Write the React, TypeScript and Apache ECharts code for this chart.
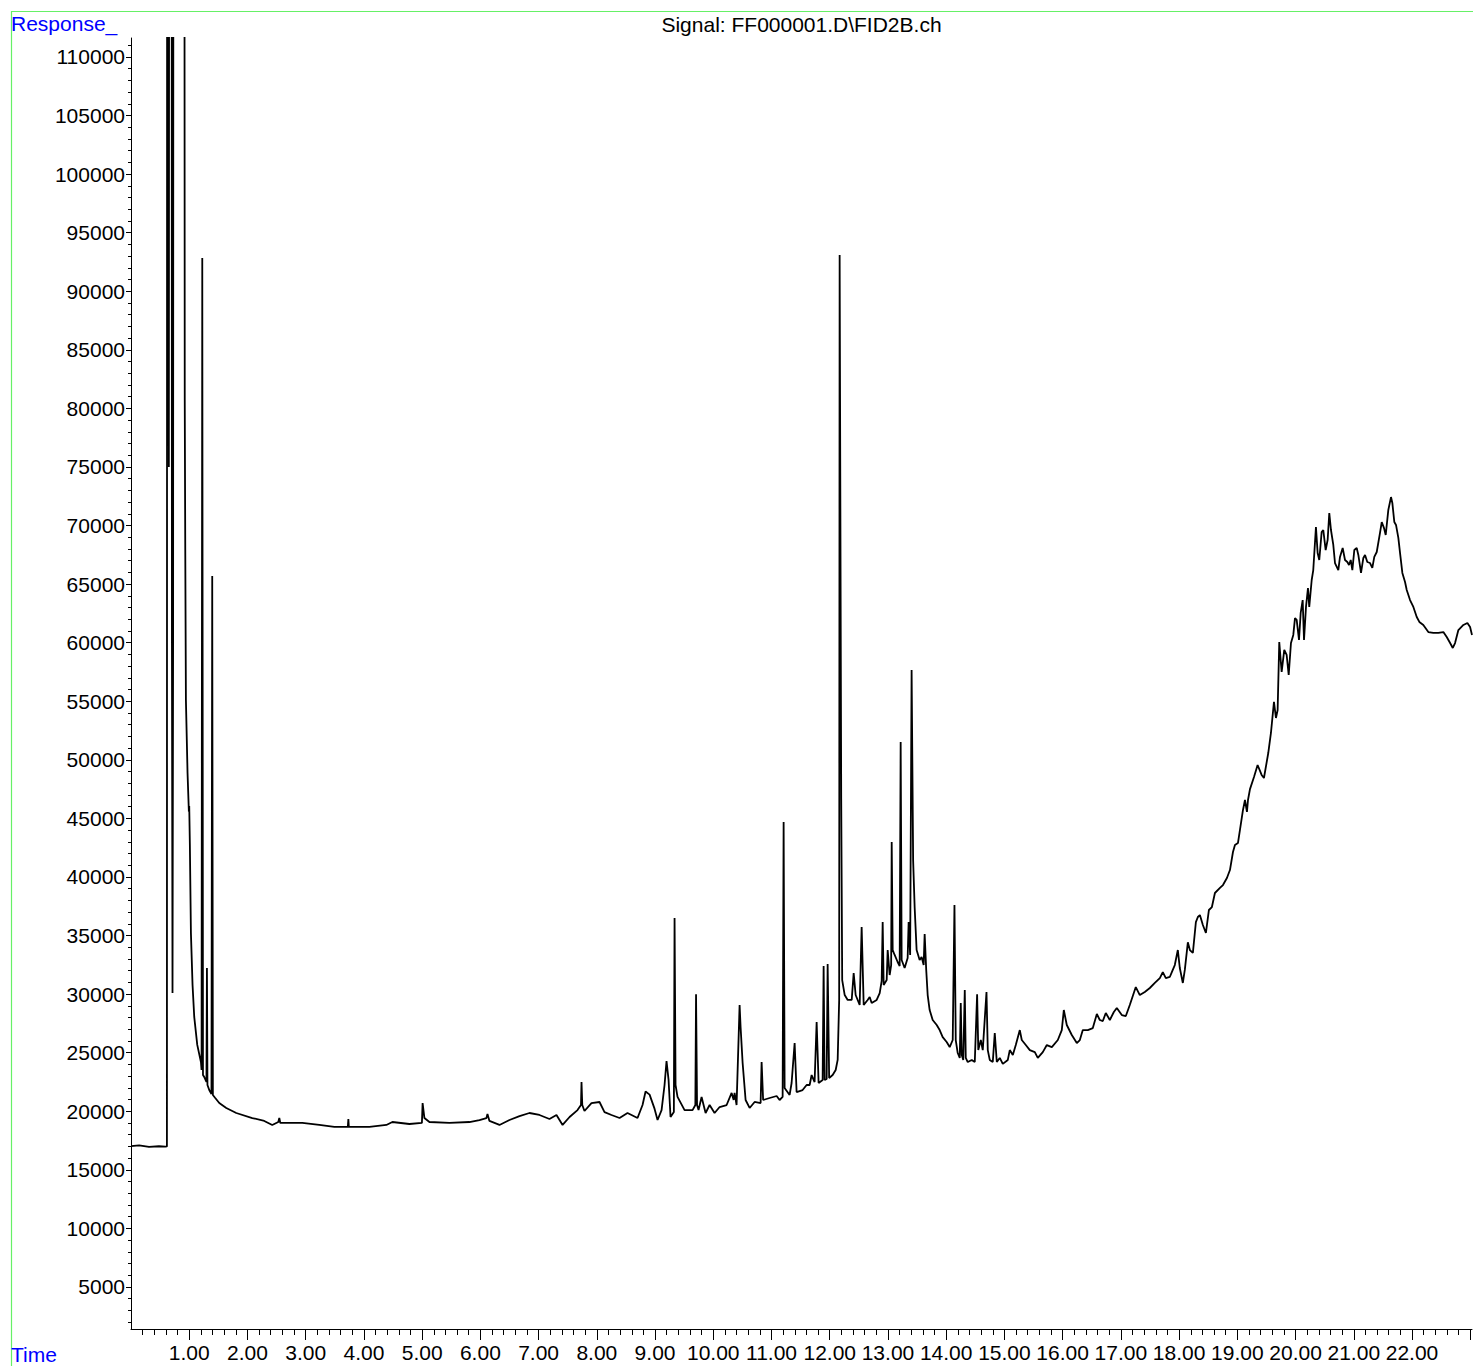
import React, { useEffect, useRef } from "react";
import * as echarts from "echarts";

// ---- Data (time in min, response) ----
const solventTrace: number[][] = [
  [0.0, 17030], [0.14, 17080], [0.31, 16950], [0.48, 17010], [0.59, 16980], [0.617, 17000],
  [0.622, 200000], [0.636, 400000], [0.643, 150000], [0.65, 75000], [0.657, 150000], [0.675, 400000],
  [0.697, 150000], [0.703, 60000], [0.713, 30100], [0.723, 60000], [0.729, 150000], [0.76, 600000],
  [0.88, 500000], [0.906, 300000], [0.915, 150000], [0.923, 80720], [0.932, 67910], [0.943, 55110],
  [0.971, 48880], [0.994, 45560], [1.0, 46060], [1.011, 42730], [1.029, 35220], [1.057, 30780],
  [1.086, 28050], [1.138, 25660], [1.201, 24200], [1.212, 23520], [1.224, 92840], [1.236, 23100],
  [1.258, 22920], [1.296, 22500], [1.304, 32230], [1.313, 22240], [1.344, 21810], [1.382, 21470],
  [1.395, 65690], [1.406, 21390], [1.447, 21130],
];

const baselineTrace: number[][] = [
  [1.516, 20700], [1.636, 20280], [1.808, 19850], [2.083, 19420], [2.289, 19170], [2.426, 18830],
  [2.53, 19080], [2.547, 19420], [2.564, 19000], [2.719, 19000], [2.942, 19000], [3.234, 18830],
  [3.492, 18660], [3.724, 18660], [3.733, 19340], [3.741, 18660], [4.094, 18660], [4.386, 18830],
  [4.489, 19080], [4.781, 18910], [4.996, 19000], [5.008, 20700], [5.039, 19420], [5.125, 19080],
  [5.468, 19000], [5.812, 19080], [5.984, 19250], [6.104, 19420], [6.122, 19760], [6.156, 19170],
  [6.328, 18830], [6.5, 19250], [6.672, 19590], [6.843, 19850], [7.015, 19680], [7.187, 19340],
  [7.307, 19680], [7.412, 18830],
];

const midTrace: number[][] = [
  [7.532, 19510], [7.668, 20100], [7.728, 20530], [7.737, 22490], [7.75, 20530], [7.788, 20020],
  [7.908, 20700], [8.046, 20790], [8.132, 19930], [8.252, 19680], [8.39, 19420], [8.527, 19850],
  [8.699, 19420], [8.785, 20530], [8.837, 21680], [8.906, 21420], [8.991, 20220], [9.043, 19250],
  [9.112, 20100], [9.163, 22240], [9.197, 24290], [9.232, 22670], [9.266, 19510], [9.323, 19930],
  [9.335, 36500], [9.352, 22240], [9.386, 21220], [9.507, 20100], [9.644, 20100], [9.692, 20530],
  [9.704, 29990], [9.721, 20530], [9.747, 20100], [9.799, 21220], [9.868, 19850], [9.937, 20530],
  [10.022, 19850], [10.109, 20360], [10.229, 20530], [10.315, 21560], [10.35, 20960], [10.366, 21560],
  [10.4, 20530], [10.452, 29070], [10.469, 27190], [10.504, 24120], [10.555, 20960], [10.624, 20280],
  [10.71, 20790], [10.813, 20700], [10.83, 24200], [10.856, 20960], [10.968, 21130], [11.088, 21300],
  [11.139, 20960], [11.191, 21220], [11.208, 44690], [11.225, 21990], [11.311, 21390], [11.345, 22410],
  [11.397, 25820], [11.431, 21640], [11.534, 21810], [11.603, 22240], [11.655, 22240], [11.689, 23090],
  [11.74, 22490], [11.775, 27620], [11.809, 22410], [11.878, 22670], [11.895, 32400], [11.912, 22670],
  [11.947, 22760], [11.964, 32570], [11.99, 22840], [12.05, 23090], [12.102, 23520], [12.136, 24380],
  [12.162, 29500], [12.17, 93100], [12.197, 46640], [12.214, 31200],
];

const clusterTrace: number[][] = [
  [12.257, 29920], [12.308, 29500], [12.377, 29500], [12.411, 31800], [12.445, 29920], [12.514, 29070],
  [12.548, 35730], [12.583, 29070], [12.651, 29500], [12.686, 29750], [12.72, 29240], [12.806, 29500],
  [12.858, 30090], [12.892, 31120], [12.909, 36150], [12.926, 30780], [12.978, 31200], [12.995, 33760],
  [13.029, 31630], [13.055, 32480], [13.064, 42980], [13.081, 33760], [13.115, 33340], [13.166, 32740],
  [13.201, 32400], [13.218, 51520], [13.235, 32910], [13.286, 32230], [13.338, 33080], [13.355, 36150],
  [13.381, 33340], [13.406, 57670], [13.432, 41450], [13.458, 37440], [13.492, 33760], [13.544, 32910],
  [13.578, 33170], [13.613, 32480], [13.63, 35130], [13.657, 32060], [13.682, 29920], [13.716, 28640],
  [13.768, 27790], [13.837, 27360], [13.888, 26930], [13.94, 26330], [14.008, 25910], [14.06, 25480],
  [14.112, 26080], [14.142, 37610], [14.164, 26080], [14.198, 24970], [14.233, 24550], [14.25, 29240],
  [14.267, 24800], [14.293, 24380], [14.319, 30350], [14.336, 24550], [14.37, 24200], [14.439, 24380],
  [14.491, 24200], [14.531, 29990], [14.551, 25220], [14.594, 26080], [14.628, 25220], [14.692, 30180],
  [14.714, 25220], [14.748, 24380], [14.8, 24200], [14.834, 26680], [14.869, 24200], [14.92, 24550],
  [14.972, 24040],
];

const riseTrace: number[][] = [
  [15.058, 24380], [15.092, 25220], [15.144, 24800], [15.195, 25650], [15.264, 26930], [15.298, 26080],
  [15.367, 25650], [15.436, 25220], [15.522, 25050], [15.573, 24550], [15.659, 25050], [15.728, 25650],
  [15.814, 25480], [15.917, 26080], [15.985, 26930], [16.02, 28640], [16.071, 27360], [16.157, 26510],
  [16.243, 25820], [16.295, 26080], [16.346, 26930], [16.432, 26930], [16.518, 27100], [16.587, 28300],
  [16.638, 27790], [16.69, 27700], [16.741, 28390], [16.81, 27790], [16.879, 28470], [16.93, 28810],
  [17.016, 28210], [17.085, 28130], [17.153, 29070], [17.256, 30600], [17.325, 29920], [17.411, 30180],
  [17.497, 30520], [17.583, 30950], [17.669, 31370], [17.72, 31880], [17.772, 31370], [17.84, 31460],
  [17.875, 31880], [17.926, 32480], [17.978, 33760], [18.012, 32230], [18.064, 30950], [18.098, 32060],
  [18.15, 34420], [18.185, 33760], [18.236, 33510], [18.288, 36150], [18.322, 36580], [18.357, 36750],
  [18.408, 35900], [18.46, 35220], [18.512, 37180], [18.563, 37430], [18.615, 38630], [18.701, 39060],
  [18.753, 39310], [18.821, 39910], [18.873, 40590], [18.925, 42130], [18.959, 42730], [19.011, 42900],
  [19.045, 44010], [19.097, 45720], [19.131, 46570], [19.165, 45550], [19.183, 46570],
];

const humpTrace: number[][] = [
  [19.217, 47500], [19.286, 48530], [19.348, 49560], [19.417, 48710], [19.457, 48450], [19.531, 50580],
  [19.577, 52290], [19.629, 54940], [19.663, 53570], [19.692, 54250], [19.72, 60060], [19.761, 57500],
  [19.806, 59380], [19.847, 58950], [19.882, 57240], [19.921, 59970], [19.961, 60660], [19.99, 62100],
  [20.019, 61940], [20.059, 60230], [20.088, 62540], [20.122, 63640], [20.145, 60230], [20.179, 63050],
  [20.213, 64670], [20.235, 63050], [20.277, 65350], [20.304, 66200], [20.35, 69880], [20.379, 67660],
  [20.407, 67060], [20.448, 69450], [20.476, 69620], [20.517, 67910], [20.551, 68770], [20.579, 71070],
  [20.608, 69620], [20.648, 68340], [20.677, 66800], [20.734, 66200], [20.763, 67320], [20.809, 68080],
  [20.849, 67060], [20.889, 66890], [20.918, 66630], [20.947, 67060], [20.975, 66200], [21.009, 67910],
  [21.05, 68080], [21.078, 67490], [21.124, 65950], [21.164, 67230], [21.193, 67490], [21.232, 66890],
  [21.279, 66800], [21.318, 66380], [21.352, 67320], [21.394, 67740], [21.45, 69370], [21.48, 70300],
  [21.519, 69780], [21.548, 69190], [21.593, 71330], [21.639, 72430], [21.662, 71930], [21.696, 70300],
  [21.725, 70050], [21.765, 68940], [21.794, 67660], [21.834, 65950], [21.88, 65180], [21.909, 64500],
  [21.966, 63640], [22.023, 63050], [22.081, 62190], [22.126, 61770], [22.194, 61510], [22.28, 60910],
  [22.366, 60830], [22.452, 60830], [22.538, 60910], [22.596, 60480], [22.654, 59970], [22.7, 59550],
  [22.739, 59970], [22.796, 61080], [22.882, 61510], [22.951, 61680], [22.997, 61340], [23.03, 60660],
];

// ---- Axis tick values ----
const yLabelValues: number[] = [
  5000, 10000, 15000, 20000, 25000, 30000, 35000, 40000, 45000, 50000, 55000,
  60000, 65000, 70000, 75000, 80000, 85000, 90000, 95000, 100000, 105000, 110000,
];
const yMinorValues: number[] = [];
for (let v = 2000; v <= 111000; v += 1000) if (v % 5000 !== 0) yMinorValues.push(v);

const xLabelValues: number[] = [1, 2, 3, 4, 5, 6, 7, 8, 9, 10, 11, 12, 13, 14, 15, 16, 17, 18, 19, 20, 21, 22];
const xMajorTickValues: number[] = [...xLabelValues, 23];
const xMinorValues: number[] = [];
for (let i = 1; i <= 115; i++) if (i % 5 !== 0) xMinorValues.push(Math.round(i * 20) / 100);

const X_MIN = 0;
const X_MAX = 23.03;
const Y_MIN = 1410;
const Y_MAX = 111620;

const TITLE = "Signal: FF000001.D\\FID2B.ch";
const FONT = "Liberation Sans";

export default function App() {
  const ref = useRef<HTMLDivElement>(null);
  useEffect(() => {
    if (!ref.current) return;
    const chart = echarts.init(ref.current, null, { renderer: "svg" });
    const trace = [
      ...solventTrace,
      ...baselineTrace,
      ...midTrace,
      ...clusterTrace,
      ...riseTrace,
      ...humpTrace,
    ];
    const labelStyle = { color: "#000", fontSize: 21, fontFamily: FONT };
    chart.setOption({
      animation: false,
      backgroundColor: "#fff",
      grid: { left: 131, top: 38, width: 1341, height: 1291, outerBoundsMode: "none", containLabel: false },
      xAxis: [
        {
          type: "value",
          min: X_MIN,
          max: X_MAX,
          position: "bottom",
          axisLine: { show: true, lineStyle: { color: "#000", width: 1 } },
          axisTick: { show: true, length: 11, customValues: xMajorTickValues, lineStyle: { color: "#000" } },
          axisLabel: {
            ...labelStyle,
            margin: 13,
            customValues: xLabelValues,
            formatter: (v: number) => v.toFixed(2),
          },
          splitLine: { show: false },
        },
        {
          type: "value",
          min: X_MIN,
          max: X_MAX,
          position: "bottom",
          axisLine: { show: false },
          axisTick: { show: true, length: 6, customValues: xMinorValues, lineStyle: { color: "#000" } },
          axisLabel: { show: false },
          splitLine: { show: false },
        },
      ],
      yAxis: [
        {
          type: "value",
          min: Y_MIN,
          max: Y_MAX,
          position: "left",
          axisLine: { show: true, lineStyle: { color: "#000", width: 1 } },
          axisTick: { show: true, length: 5, customValues: yLabelValues, lineStyle: { color: "#000" } },
          axisLabel: {
            ...labelStyle,
            margin: 6,
            customValues: yLabelValues,
            formatter: (v: number) => String(v),
          },
          splitLine: { show: false },
        },
        {
          type: "value",
          min: Y_MIN,
          max: Y_MAX,
          position: "left",
          axisLine: { show: false },
          axisTick: { show: true, length: 3, customValues: yMinorValues, lineStyle: { color: "#000" } },
          axisLabel: { show: false },
          splitLine: { show: false },
        },
      ],
      series: [
        {
          type: "line",
          xAxisIndex: 0,
          yAxisIndex: 0,
          data: trace,
          showSymbol: false,
          symbol: "none",
          clip: true,
          lineStyle: { color: "#000", width: 1.8 },
          silent: true,
        },
      ],
      graphic: [
        { type: "line", shape: { x1: 11, y1: 11.5, x2: 1473, y2: 11.5 }, style: { stroke: "#66f066", lineWidth: 1.2 }, silent: true },
        { type: "line", shape: { x1: 11.5, y1: 11, x2: 11.5, y2: 1366 }, style: { stroke: "#66f066", lineWidth: 1.2 }, silent: true },
        {
          type: "text",
          x: 11,
          y: 23,
          style: { text: "Response_", fill: "#0000ff", fontSize: 21, fontFamily: FONT, verticalAlign: "middle", align: "left" },
        },
        {
          type: "text",
          x: 11,
          y: 1354,
          style: { text: "Time", fill: "#0000ff", fontSize: 21, fontFamily: FONT, verticalAlign: "middle", align: "left" },
        },
        {
          type: "text",
          x: 801.5,
          y: 24.5,
          style: { text: TITLE, fill: "#000", fontSize: 21, fontFamily: FONT, verticalAlign: "middle", align: "center" },
        },
      ],
    });
    return () => chart.dispose();
  }, []);
  return (
    <div
      ref={ref}
      style={{ position: "fixed", left: 0, top: 0, width: "1473px", height: "1366px", background: "#fff" }}
    />
  );
}
